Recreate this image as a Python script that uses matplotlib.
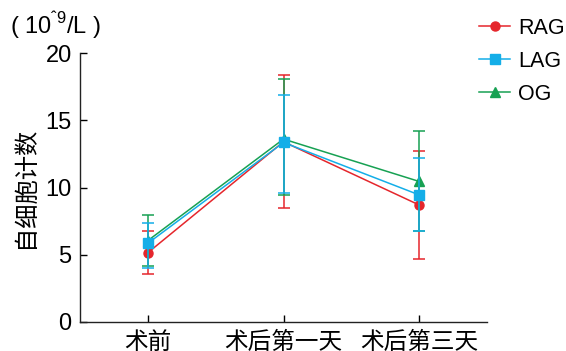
import numpy as np
import matplotlib
matplotlib.use("Agg")
import matplotlib.pyplot as plt
from matplotlib.lines import Line2D

plt.rcParams['font.family'] = ['Liberation Sans', 'Noto Sans CJK SC', 'DejaVu Sans']
plt.rcParams['mathtext.fontset'] = 'custom'
plt.rcParams['mathtext.rm'] = 'Liberation Sans'

days = ["术前", "术后第一天", "术后第三天"]
groups = ["RAG", "LAG", "OG"]

# mean values per group
rag = [5.15, 13.4, 8.7]
lag = [5.85, 13.35, 9.45]
og = [6.05, 13.6, 10.45]

# sd (lower, upper)
rag_sd = [[1.6, 4.95, 4.05], [1.6, 4.95, 4.05]]
lag_sd = [[1.8, 3.75, 2.7], [1.5, 3.55, 2.75]]
og_sd = [[1.87, 4.15, 3.7], [1.87, 4.45, 3.75]]

colors = {"RAG": "#e5262c", "LAG": "#14aee8", "OG": "#17a153"}
markers = {"RAG": "o", "LAG": "s", "OG": "^"}
msizes = {"RAG": 6.5, "LAG": 7, "OG": 6.5}

fig = plt.figure(figsize=(5.66, 3.51), dpi=100)
ax = fig.add_axes([80/566, 29/351, 407/566, 269/351])

x = np.arange(len(days))
series = [("RAG", rag, rag_sd, 3), ("OG", og, og_sd, 4), ("LAG", lag, lag_sd, 5)]
for name, vals, sd, z in series:
    ax.errorbar(x, vals, yerr=sd, color=colors[name], marker=markers[name],
                markersize=msizes[name], linewidth=1.1, elinewidth=1.1,
                capsize=4, capthick=1.1, zorder=z)

ax.set_xlim(-0.5, 2.5)
ax.set_ylim(0, 20)
ax.set_yticks([0, 5, 10, 15, 20])
ax.set_xticks(x)
ax.set_xticklabels(days, fontsize=17)
ax.tick_params(axis='y', direction='in', labelsize=17, length=5, width=1, pad=6)
ax.tick_params(axis='x', direction='in', length=5, width=1, pad=7)
for s in ['top', 'right']:
    ax.spines[s].set_visible(False)
for s in ['left', 'bottom']:
    ax.spines[s].set_linewidth(1)
    ax.spines[s].set_color('#222222')

ax.set_ylabel("自细胞计数", fontsize=17.5, labelpad=6)
fig.text(10/566, 1 - 25/351, r"( 10$^{\mathregular{ˆ9}}$/L )", fontsize=17, va='center')

# legend: line + marker only
handles = [Line2D([], [], color=colors[g], marker=markers[g], markersize=msizes[g],
                  linewidth=1.1) for g in groups]
fig.legend(handles, groups, loc='upper left',
           bbox_to_anchor=(479/566, 1 - 18/351), frameon=False, fontsize=15.5,
           handlelength=1.45, handletextpad=0.35, labelspacing=0.55,
           borderaxespad=0, borderpad=0)

fig.savefig("out.png", dpi=100)
